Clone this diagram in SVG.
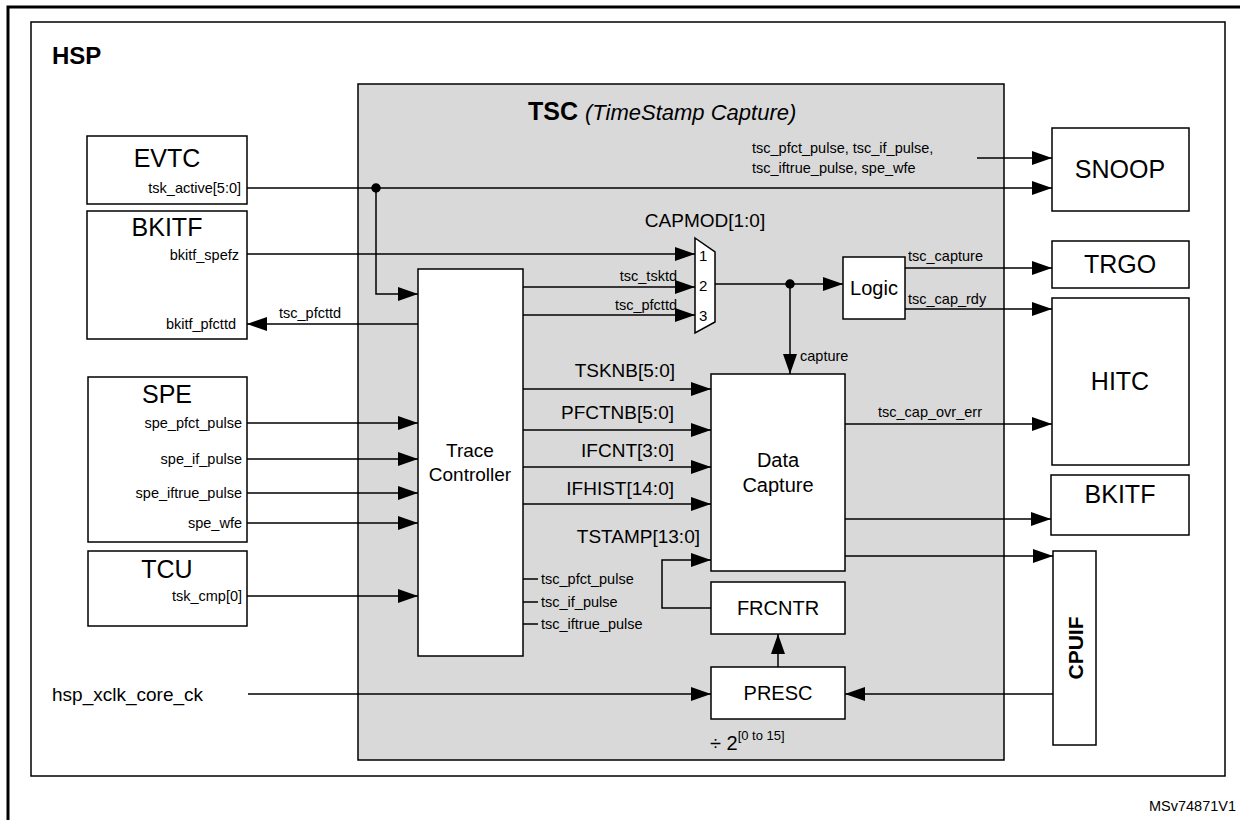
<svg xmlns="http://www.w3.org/2000/svg" width="1240" height="820" viewBox="0 0 1240 820">
<style>
text{font-family:"Liberation Sans",Arial,sans-serif;fill:#000}
.b{fill:#fff;stroke:#000;stroke-width:1.5}
.t{font-size:25px;text-anchor:middle}
.s{font-size:14.5px}
.r{text-anchor:end}
.bus{font-size:19px;text-anchor:end}
.w{fill:none;stroke:#000;stroke-width:1.5}
</style>
<defs>
<marker id="A" viewBox="0 0 20 14" refX="20" refY="7" markerWidth="20" markerHeight="14" markerUnits="userSpaceOnUse" orient="auto"><path d="M0,0L20,7L0,14z" fill="#000"/></marker>
</defs>
<rect width="1240" height="820" fill="#fff"/>
<path d="M8,820V7H1240" fill="none" stroke="#000" stroke-width="3"/>
<rect x="31" y="22" width="1194" height="754" fill="none" stroke="#000" stroke-width="1.5"/>
<text x="52" y="64" style="font-size:24px;font-weight:bold">HSP</text>
<text x="1236" y="811" class="s" text-anchor="end">MSv74871V1</text>
<g id="tsc"><rect x="358" y="84" width="646" height="676" fill="#d9d9d9" stroke="#000" stroke-width="1.5"/>
<text x="528" y="120" style="font-size:25px;font-weight:bold">TSC <tspan style="font-weight:normal;font-style:italic;font-size:22px">(TimeStamp Capture)</tspan></text></g>
<g id="evtc"><rect class="b" x="87" y="136" width="160" height="68"/><text class="t" x="167" y="167">EVTC</text><text class="s r" x="241" y="193">tsk_active[5:0]</text></g>
<g id="bkitf1"><rect class="b" x="87" y="211" width="160" height="128"/><text class="t" x="167" y="236">BKITF</text><text class="s r" x="239" y="260">bkitf_spefz</text><text class="s r" x="236" y="329">bkitf_pfcttd</text></g>
<g id="spe"><rect class="b" x="88" y="377" width="159" height="165"/><text class="t" x="167" y="403">SPE</text>
<text class="s r" x="242" y="428">spe_pfct_pulse</text><text class="s r" x="242" y="464">spe_if_pulse</text><text class="s r" x="242" y="498">spe_iftrue_pulse</text><text class="s r" x="242" y="528">spe_wfe</text></g>
<g id="tcu"><rect class="b" x="88" y="551" width="159" height="75"/><text class="t" x="167" y="578">TCU</text><text class="s r" x="242" y="601">tsk_cmp[0]</text></g>
<g id="trace"><rect class="b" x="418" y="269" width="105" height="387"/><text x="470" y="457" style="font-size:19px" text-anchor="middle">Trace</text><text x="470" y="481" style="font-size:19px" text-anchor="middle">Controller</text>
<text class="s" x="541" y="584">tsc_pfct_pulse</text><text class="s" x="541" y="607">tsc_if_pulse</text><text class="s" x="541" y="629">tsc_iftrue_pulse</text></g>
<g id="mux"><path class="b" d="M695,238L715,252V322L695,333z"/><text x="705" y="227" style="font-size:19px" text-anchor="middle">CAPMOD[1:0]</text>
<text x="699" y="261" style="font-size:15px">1</text><text x="699" y="291" style="font-size:15px">2</text><text x="699" y="321" style="font-size:15px">3</text></g>
<g id="logic"><rect class="b" x="843" y="257" width="62" height="62"/><text x="874" y="295" style="font-size:20px" text-anchor="middle">Logic</text></g>
<g id="dc"><rect class="b" x="711" y="374" width="134" height="197"/><text x="778" y="467" style="font-size:20px" text-anchor="middle">Data</text><text x="778" y="492" style="font-size:20px" text-anchor="middle">Capture</text></g>
<g id="frcntr"><rect class="b" x="711" y="582" width="134" height="52"/><text x="778" y="615" style="font-size:20px" text-anchor="middle">FRCNTR</text></g>
<g id="presc"><rect class="b" x="711" y="667" width="134" height="52"/><text x="778" y="700" style="font-size:20px" text-anchor="middle">PRESC</text>
<text x="710" y="750" style="font-size:20px">÷ 2<tspan dy="-10" style="font-size:13px">[0 to 15]</tspan></text></g>
<g id="snoop"><rect class="b" x="1052" y="128" width="137" height="83"/><text class="t" x="1120" y="178">SNOOP</text></g>
<g id="trgo"><rect class="b" x="1052" y="241" width="137" height="47"/><text class="t" x="1120" y="273">TRGO</text></g>
<g id="hitc"><rect class="b" x="1052" y="298" width="137" height="167"/><text class="t" x="1120" y="390">HITC</text></g>
<g id="bkitf2"><rect class="b" x="1051" y="475" width="138" height="60"/><text class="t" x="1120" y="503">BKITF</text></g>
<g id="cpuif"><rect class="b" x="1053" y="551" width="43" height="194"/><text transform="translate(1083,648) rotate(-90)" style="font-size:21px;font-weight:bold" text-anchor="middle">CPUIF</text></g>
<text x="52" y="701" style="font-size:19px">hsp_xclk_core_ck</text>
<g id="connectors" class="w">
<path d="M247,188H1052" marker-end="url(#A)"/>
<circle cx="376" cy="188" r="4" fill="#000"/>
<path d="M376,188V294H418" marker-end="url(#A)"/>
<path d="M977,158H1052" marker-end="url(#A)"/>
<path d="M247,254H695" marker-end="url(#A)"/>
<path d="M523,287H695" marker-end="url(#A)"/>
<path d="M523,315H695" marker-end="url(#A)"/>
<path d="M418,324H247" marker-end="url(#A)"/>
<path d="M715,284H843" marker-end="url(#A)"/>
<circle cx="790" cy="284" r="4" fill="#000"/>
<path d="M790,284V374" marker-end="url(#A)"/>
<path d="M905,268H1052" marker-end="url(#A)"/>
<path d="M905,309H1052" marker-end="url(#A)"/>
<path d="M247,423H418" marker-end="url(#A)"/>
<path d="M247,459H418" marker-end="url(#A)"/>
<path d="M247,493H418" marker-end="url(#A)"/>
<path d="M247,523H418" marker-end="url(#A)"/>
<path d="M247,596H418" marker-end="url(#A)"/>
<path d="M523,389H711" marker-end="url(#A)"/>
<path d="M523,430H711" marker-end="url(#A)"/>
<path d="M523,467H711" marker-end="url(#A)"/>
<path d="M523,504H711" marker-end="url(#A)"/>
<path d="M711,608H662V560H711" marker-end="url(#A)"/>
<path d="M845,424H1052" marker-end="url(#A)"/>
<path d="M845,519H1051" marker-end="url(#A)"/>
<path d="M845,556H1053" marker-end="url(#A)"/>
<path d="M778,667V634" marker-end="url(#A)"/>
<path d="M248,694H711" marker-end="url(#A)"/>
<path d="M1053,694H845" marker-end="url(#A)"/>
<path d="M523,579H538M523,602H538M523,624H538"/>
</g>
<g id="labels">
<text class="s" x="752" y="153">tsc_pfct_pulse, tsc_if_pulse,</text>
<text class="s" x="752" y="173">tsc_iftrue_pulse, spe_wfe</text>
<text class="s" x="279" y="318">tsc_pfcttd</text>
<text class="s r" x="677" y="281">tsc_tsktd</text>
<text class="s r" x="677" y="310">tsc_pfcttd</text>
<text class="s" x="800" y="361">capture</text>
<text class="s" x="908" y="261">tsc_capture</text>
<text class="s" x="908" y="304">tsc_cap_rdy</text>
<text class="s" x="878" y="417">tsc_cap_ovr_err</text>
<text class="bus" x="675" y="377">TSKNB[5:0]</text>
<text class="bus" x="674" y="419">PFCTNB[5:0]</text>
<text class="bus" x="674" y="457">IFCNT[3:0]</text>
<text class="bus" x="674" y="495">IFHIST[14:0]</text>
<text class="bus" x="700" y="543">TSTAMP[13:0]</text>
</g>
</svg>
